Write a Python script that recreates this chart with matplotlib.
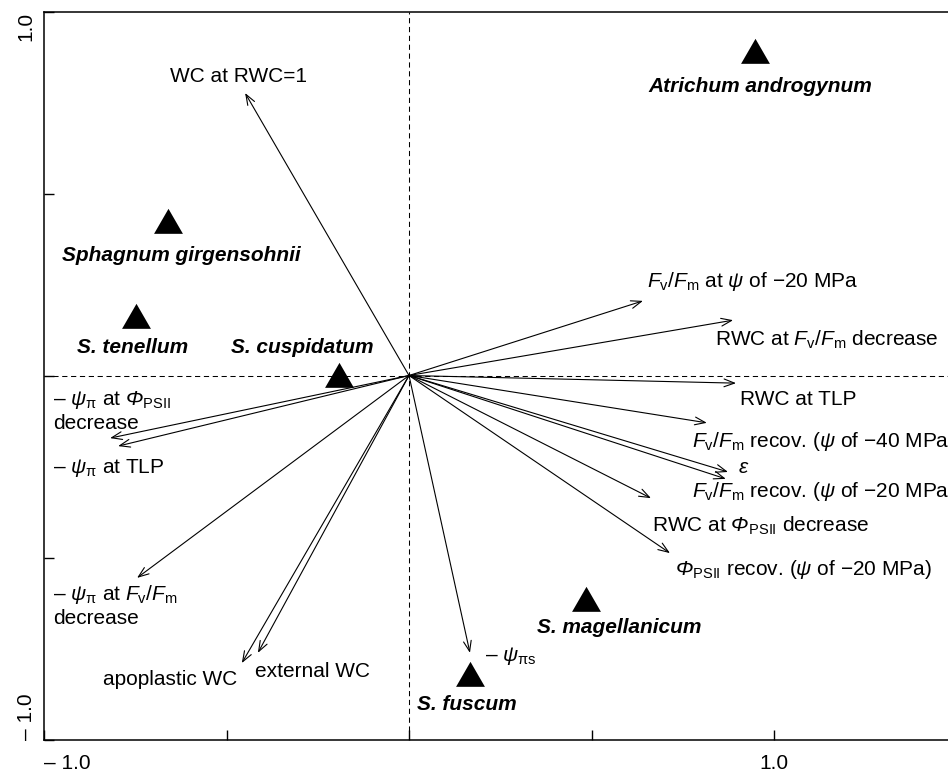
import matplotlib
matplotlib.use("Agg")
import matplotlib.pyplot as plt
from matplotlib.path import Path

plt.rcParams["font.family"] = ["Liberation Sans", "DejaVu Sans"]
plt.rcParams["mathtext.fontset"] = "custom"
plt.rcParams["mathtext.rm"] = "Liberation Sans"
plt.rcParams["mathtext.it"] = "Liberation Sans:italic"
plt.rcParams["mathtext.bf"] = "Liberation Sans:bold"
plt.rcParams["mathtext.sf"] = "Liberation Sans:italic"

# ---- species scores (PCA axis 1, axis 2) ----
species = ["Atrichum androgynum", "Sphagnum girgensohnii", "S. tenellum",
           "S. cuspidatum", "S. magellanicum", "S. fuscum"]
species_x = [0.949, -0.660, -0.748, -0.192, 0.485, 0.167]
species_y = [0.881, 0.414, 0.153, -0.009, -0.624, -0.830]

# ---- trait loadings (arrow tips) ----
traits = [
    "WC at RWC=1",
    r"$F_\mathrm{v}/F_\mathrm{m}$ at $\psi$ of −20 MPa",
    r"RWC at $F_\mathrm{v}/F_\mathrm{m}$ decrease",
    "RWC at TLP",
    r"$F_\mathrm{v}/F_\mathrm{m}$ recov. ($\psi$ of −40 MPa)",
    r"$\varepsilon$",
    r"$F_\mathrm{v}/F_\mathrm{m}$ recov. ($\psi$ of −20 MPa)",
    r"RWC at $\mathsf{\Phi}_\mathrm{PSII}$ decrease",
    r"$\mathsf{\Phi}_\mathrm{PSII}$ recov. ($\psi$ of −20 MPa)",
    r"– $\psi_{\mathrm{\pi s}}$",
    "apoplastic WC",
    "external WC",
    "– $\\psi_\\mathrm{\\pi}$ at $F_\\mathrm{v}/F_\\mathrm{m}$\ndecrease",
    "– $\\psi_\\mathrm{\\pi}$ at $\\mathsf{\\Phi}_\\mathrm{PSII}$\ndecrease",
    r"– $\psi_\mathrm{\pi}$ at TLP",
]
trait_x = [-0.449, 0.641, 0.888, 0.896, 0.816, 0.874, 0.868, 0.663, 0.715,
           0.167, -0.458, -0.414, -0.745, -0.819, -0.797]
trait_y = [0.776, 0.205, 0.152, -0.021, -0.130, -0.265, -0.284, -0.337, -0.488,
           -0.762, -0.790, -0.762, -0.556, -0.172, -0.194]

# axis ticks and their labels
tick_values = [-1.0, -0.5, 0.0, 0.5, 1.0]
tick_labels = ["– 1.0", "", "", "", "1.0"]

# ---- label layout: offsets (pixels) from the point, horizontal alignment ----
species_offsets = [(5, -37), (13, -36), (-3, -33), (-37, 26), (33, -30), (-3, -32)]
trait_offsets = [(-7, 11, "center"), (4, 14, "left"), (-18, -26, "left"),
                 (4, -22, "left"), (-15, -24, "left"), (10, -1, "left"),
                 (-34, -18, "left"), (1, -34, "left"), (5, -22, "left"),
                 (15, -8, "left"), (-5, -22, "right"), (-3, -24, "left"),
                 (-84, -22, "left"), (-57, 33, "left"), (-65, -27, "left")]
line_gap = 24  # pixels between stacked label lines

fig = plt.figure(figsize=(9.48, 7.71), dpi=100)
ax = fig.add_axes([44 / 948, 31.5 / 771, 904 / 948, 728 / 771])
ax.set_xlim(-1.0, 1.4767)
ax.set_ylim(-1.0, 1.0)

# reference lines through the origin
ax.axhline(0, color="black", lw=0.75, linestyle=(0, (5, 3.5)), zorder=1)
ax.axvline(0, color="black", lw=0.75, linestyle=(0, (5, 3.5)), zorder=1)

# trait arrows
for x, y in zip(trait_x, trait_y):
    ax.annotate("", xy=(x, y), xytext=(0, 0),
                arrowprops=dict(arrowstyle="->,head_length=0.75,head_width=0.28",
                                lw=0.8, color="black", shrinkA=0, shrinkB=0,
                                mutation_scale=10),
                zorder=2)

# trait labels
for name, x, y, (dx, dy, ha) in zip(traits, trait_x, trait_y, trait_offsets):
    for i, line in enumerate(name.split("\n")):
        ax.annotate(line, xy=(x, y), xytext=(dx, dy - i * line_gap),
                    textcoords="offset pixels", ha=ha, va="baseline",
                    fontsize=15, color="black", zorder=3)

# species points (equilateral filled triangles)
tri = Path([(0, 1), (-0.866, -0.5), (0.866, -0.5), (0, 1)],
           [Path.MOVETO, Path.LINETO, Path.LINETO, Path.CLOSEPOLY])
ax.plot(species_x, species_y, linestyle="none", marker=tri, markersize=24,
        color="black", markeredgewidth=0, zorder=4)

for name, x, y, (dx, dy) in zip(species, species_x, species_y, species_offsets):
    ax.annotate(name, xy=(x, y), xytext=(dx, dy), textcoords="offset pixels",
                ha="center", va="baseline", fontsize=15, fontweight="bold",
                fontstyle="italic", color="black", zorder=5)

# frame: open on the right
for side in ("left", "top", "bottom"):
    ax.spines[side].set_linewidth(1.1)
ax.spines["right"].set_visible(False)

ax.set_xticks(tick_values)
ax.set_xticklabels(tick_labels)
ax.set_yticks(tick_values)
ax.set_yticklabels(tick_labels)
ax.tick_params(axis="both", direction="in", length=7.5, width=1.0,
               labelsize=15, right=False, top=False)
ax.tick_params(axis="x", pad=10.5)
ax.tick_params(axis="y", pad=6, labelrotation=90)

xl = ax.get_xticklabels()
xl[0].set_ha("left")
yl = ax.get_yticklabels()
yl[0].set_va("bottom")
yl[-1].set_va("top")

fig.savefig("out.png", dpi=100)
